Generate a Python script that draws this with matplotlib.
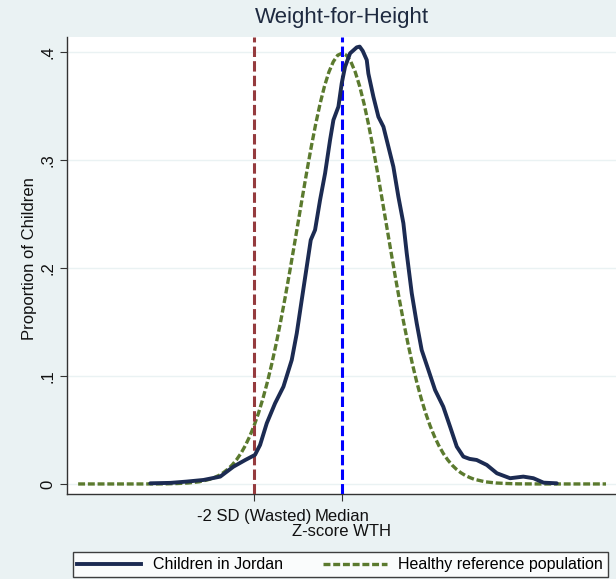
import matplotlib
matplotlib.use("Agg")
import matplotlib.pyplot as plt
from matplotlib.lines import Line2D

plt.rcParams['font.family'] = ['Liberation Sans', 'DejaVu Sans']
plt.rcParams['lines.scale_dashes'] = False

# Kernel density of weight-for-height z-scores, children in Jordan
jordan_z = [-4.36, -3.9, -3.53, -3.15, -2.77, -2.47, -2.20, -1.98, -1.864, -1.712,
            -1.523, -1.333, -1.144, -1.03, -0.917, -0.803, -0.712, -0.614, -0.5, -0.386,
            -0.273, -0.197, -0.083, -0.008, 0.068, 0.182, 0.333, 0.40, 0.47, 0.561,
            0.598, 0.712, 0.826, 0.94, 1.053, 1.166, 1.28, 1.394, 1.47, 1.584,
            1.697, 1.81, 1.962, 2.114, 2.30, 2.455, 2.607, 2.758, 2.90, 3.06,
            3.29, 3.52, 3.82, 4.12, 4.35, 4.58, 4.88]
jordan_density = [0.0006, 0.0010, 0.0022, 0.0037, 0.0068, 0.0160, 0.0222, 0.0269, 0.0361, 0.0562,
                  0.0747, 0.0901, 0.1148, 0.1395, 0.1704, 0.2012, 0.2259, 0.2352, 0.2630, 0.2877,
                  0.3185, 0.3370, 0.3494, 0.3710, 0.3864, 0.3988, 0.4043, 0.4050, 0.4010, 0.3926,
                  0.3800, 0.3586, 0.3400, 0.3308, 0.3123, 0.2938, 0.2660, 0.2414, 0.2136, 0.1766,
                  0.1488, 0.1240, 0.1056, 0.0870, 0.0716, 0.0531, 0.0346, 0.0253, 0.0232, 0.0222,
                  0.0176, 0.0099, 0.0053, 0.0068, 0.0053, 0.0012, 0.0006]

# Healthy reference population density
reference_z = [-6.0, -5.5, -5.0, -4.5, -4.0, -3.75, -3.5, -3.25,
               -3.0, -2.9, -2.8, -2.7, -2.6, -2.5, -2.4, -2.3, -2.2, -2.1,
               -2.0, -1.9, -1.8, -1.7, -1.6, -1.5, -1.4, -1.3, -1.2, -1.1,
               -1.0, -0.9, -0.8, -0.7, -0.6, -0.5, -0.4, -0.3, -0.2, -0.1,
               0.0, 0.1, 0.2, 0.3, 0.4, 0.5, 0.6, 0.7, 0.8, 0.9,
               1.0, 1.1, 1.2, 1.3, 1.4, 1.5, 1.6, 1.7, 1.8, 1.9,
               2.0, 2.1, 2.2, 2.3, 2.4, 2.5, 2.6, 2.7, 2.8, 2.9,
               3.0, 3.25, 3.5, 3.75, 4.0, 4.5, 5.0, 5.5, 6.0]
reference_density = [0.0, 0.0, 0.0, 0.0, 0.0001, 0.0004, 0.0009, 0.0020,
                     0.0044, 0.0060, 0.0079, 0.0104, 0.0136, 0.0175, 0.0224, 0.0283, 0.0355, 0.0440,
                     0.0540, 0.0656, 0.0790, 0.0940, 0.1109, 0.1295, 0.1497, 0.1714, 0.1942, 0.2179,
                     0.2420, 0.2661, 0.2897, 0.3123, 0.3332, 0.3521, 0.3683, 0.3814, 0.3910, 0.3970,
                     0.3989, 0.3970, 0.3910, 0.3814, 0.3683, 0.3521, 0.3332, 0.3123, 0.2897, 0.2661,
                     0.2420, 0.2179, 0.1942, 0.1714, 0.1497, 0.1295, 0.1109, 0.0940, 0.0790, 0.0656,
                     0.0540, 0.0440, 0.0355, 0.0283, 0.0224, 0.0175, 0.0136, 0.0104, 0.0079, 0.0060,
                     0.0044, 0.0020, 0.0009, 0.0004, 0.0001, 0.0, 0.0, 0.0, 0.0]

x_ticks = [-2, 0]
x_tick_labels = ["-2 SD (Wasted)", "Median"]
y_ticks = [0, 0.1, 0.2, 0.3, 0.4]
y_tick_labels = ["0", ".1", ".2", ".3", ".4"]

BG = '#eaf2f3'
NAVY = '#1c2b52'
GREEN = '#5b7a2e'
RED = '#953b3e'
BLUE = '#0000ff'
TXT = '#111111'

W, H = 616, 579
AX_L, AX_R, AX_T, AX_B = 66.7, 617.0, 37.0, 494.0

fig = plt.figure(figsize=(W / 100, H / 100), dpi=100, facecolor=BG)
ax = fig.add_axes([AX_L / W, 1 - AX_B / H, (AX_R - AX_L) / W, (AX_B - AX_T) / H])
ax.set_facecolor('white')

ax.set_xlim(-6.26, 6.25)
ax.set_ylim(-0.0093, 0.4139)

for yv in y_ticks:
    ax.axhline(yv, color=BG, lw=1.0, zorder=1)

ax.plot(reference_z, reference_density, color=GREEN, lw=2.4,
        dashes=(5.0, 2.0), solid_capstyle='butt', zorder=2)
ax.axvline(-2, color=RED, lw=2.2, dashes=(7.5, 3.0), zorder=3)
ax.axvline(0, color=BLUE, lw=2.2, dashes=(7.5, 3.0), zorder=3)
ax.plot(jordan_z, jordan_density, color=NAVY, lw=2.8, zorder=4,
        solid_joinstyle='round', solid_capstyle='round')

ax.set_xticks(x_ticks)
ax.set_xticklabels(x_tick_labels, fontsize=12, color=TXT)
ax.set_yticks(y_ticks)
ax.set_yticklabels(y_tick_labels, fontsize=12, rotation=90, va='center', color=TXT)
ax.tick_params(axis='both', length=4.8, width=0.8, color='#333333')
ax.tick_params(axis='x', pad=6.2)
ax.tick_params(axis='y', pad=3.5)

for s in ('top', 'right'):
    ax.spines[s].set_visible(False)
for s in ('left', 'bottom'):
    ax.spines[s].set_color('#333333')
    ax.spines[s].set_linewidth(1.0)

ax.set_xlabel("Z-score WTH", fontsize=12, color=TXT)
ax.set_ylabel("Proportion of Children", fontsize=12, color=TXT)
ax.xaxis.set_label_coords((342 - AX_L) / (AX_R - AX_L), -(524.5 - AX_B) / (AX_B - AX_T))
ax.yaxis.set_label_coords(-(AX_L - 37) / (AX_R - AX_L), (AX_B - 259) / (AX_B - AX_T))

fig.text(342 / W, 1 - 18 / H, "Weight-for-Height", ha='center', va='center',
         fontsize=16, color='#1e2a40')

handles = [Line2D([], [], color=NAVY, lw=2.8),
           Line2D([], [], color=GREEN, lw=2.4, dashes=(5.0, 2.0))]
leg = fig.legend(handles, ["Children in Jordan", "Healthy reference population"],
                 loc='lower left', ncol=2, mode='expand',
                 bbox_to_anchor=(72.7 / W, 1 - 577 / H, (608 - 72.7) / W, 29 / H),
                 fontsize=11.5, frameon=True, fancybox=False, handlelength=4.0,
                 handletextpad=0.7, borderaxespad=0, borderpad=0.3,
                 columnspacing=2.0)
leg.get_frame().set_edgecolor(TXT)
leg.get_frame().set_linewidth(1.0)
leg.get_frame().set_facecolor('white')

fig.savefig("out.png", dpi=100, facecolor=BG)
